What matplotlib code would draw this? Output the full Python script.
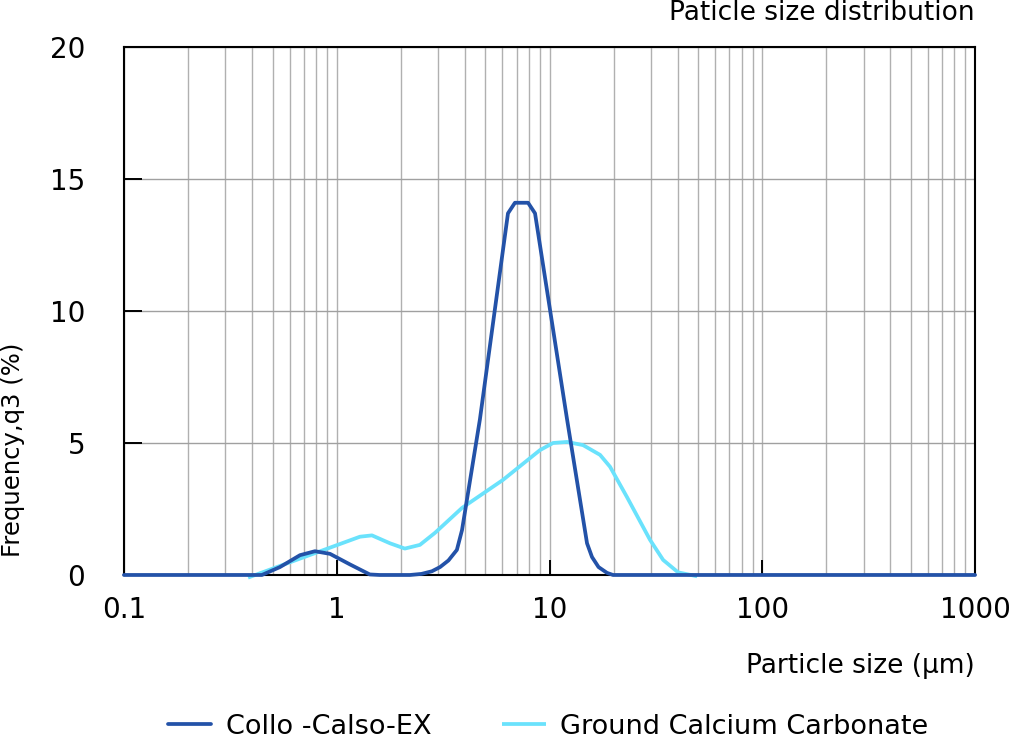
import numpy as np
import matplotlib.pyplot as plt
from matplotlib.ticker import FixedLocator, LogLocator, NullFormatter

plt.rcParams['font.family'] = ['DejaVu Sans']

# =========================
# Data
# =========================

collo_x = [0.1, 0.445, 0.541, 0.672, 0.79, 0.93, 1.154, 1.43, 1.59, 2.21, 2.5,
           2.8, 3.06, 3.35, 3.67, 3.88, 4.71, 6.38, 6.88, 7.93, 8.55, 12.09,
           15.01, 15.84, 17.0, 18.63, 19.89, 1000]
collo_y = [0, 0, 0.3, 0.75, 0.9, 0.8, 0.4, 0.02, 0, 0, 0.04,
           0.14, 0.3, 0.55, 0.95, 1.7, 5.9, 13.7, 14.1, 14.1, 13.7, 5.9,
           1.2, 0.68, 0.3, 0.08, 0, 0]

gcc_x = [0.383, 1.286, 1.464, 1.78, 2.09, 2.46, 2.9, 3.88, 6.04, 9.02, 10.39,
         12.09, 14.37, 17.28, 19.25, 23.13, 29.68, 34.2, 40.2, 49.4]
gcc_y = [-0.1, 1.45, 1.5, 1.2, 1.0, 1.14, 1.6, 2.54, 3.6, 4.73, 5.0,
         5.04, 4.92, 4.55, 4.1, 2.95, 1.33, 0.57, 0.1, -0.05]

x_ticks = [0.1, 1, 10, 100, 1000]
x_ticklabels = ["0.1", "1", "10", "100", "1000"]
y_ticks = [0, 5, 10, 15, 20]

DARK = "#2352a8"
CYAN = "#6ae2fc"

# =========================
# Figure
# =========================

fig = plt.figure(figsize=(10.21, 7.38), dpi=100)
ax = fig.add_axes([0.1214, 0.2209, 0.8336, 0.7154])

ax.plot(collo_x, collo_y, color=DARK, lw=2.7, solid_joinstyle="round",
        solid_capstyle="round", zorder=4, clip_on=False, label="Collo -Calso-EX")
ax.plot(gcc_x, gcc_y, color=CYAN, lw=2.7, solid_joinstyle="round",
        solid_capstyle="butt", zorder=3, clip_on=False,
        label="Ground Calcium Carbonate")

ax.set_xscale("log")
ax.set_xlim(0.1, 1000)
ax.set_ylim(0, 20)

ax.xaxis.set_major_locator(FixedLocator(x_ticks))
ax.set_xticklabels(x_ticklabels)
ax.xaxis.set_minor_locator(LogLocator(base=10, subs=np.arange(2, 10)))
ax.xaxis.set_minor_formatter(NullFormatter())
ax.set_yticks(y_ticks)

ax.grid(which="both", axis="x", color="#b0b0b0", lw=1.0)
ax.grid(which="major", axis="y", color="#a0a0a0", lw=1.0)
ax.set_axisbelow(True)

ax.tick_params(axis="y", direction="in", length=13, width=1.4, pad=28,
               labelsize=20, colors="black")
ax.tick_params(axis="x", which="major", direction="in", length=11, width=1.4,
               pad=15, labelsize=20)
ax.tick_params(axis="x", which="minor", length=0)

for s in ax.spines.values():
    s.set_linewidth(1.5)
    s.set_color("black")

fig.text(0.955, 0.983, "Paticle size distribution", ha="right", va="center",
         fontsize=19)
fig.text(0.955, 0.098, "Particle size (\u03bcm)", ha="right", va="center",
         fontsize=19)
fig.text(0.013, 0.39, "Frequency,q3 (%)", rotation=90, ha="center",
         va="center", fontsize=17.5)

fig.legend(loc="center", bbox_to_anchor=(0.537, 0.015), ncol=2, frameon=False,
           fontsize=19.5, handlelength=1.6, columnspacing=2.6, handletextpad=0.55)

fig.savefig("out.png", dpi=100)
